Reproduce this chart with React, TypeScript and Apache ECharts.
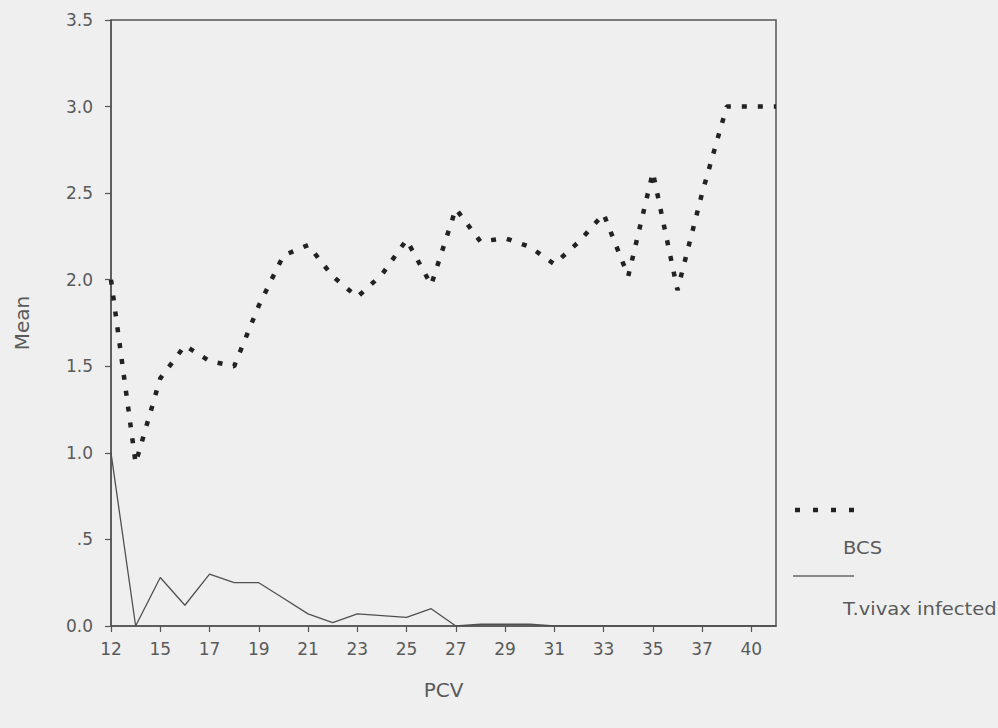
import React, { useEffect, useRef } from "react";
import * as echarts from "echarts";

const categories = ["12", "14", "15", "16", "17", "18", "19", "20", "21", "22", "23", "24", "25", "26", "27", "28", "29", "30", "31", "32", "33", "34", "35", "36", "37", "38", "40", "42"];
const bcsValues = [2.0, 0.94, 1.43, 1.62, 1.53, 1.5, 1.85, 2.14, 2.2, 2.02, 1.9, 2.03, 2.23, 1.97, 2.41, 2.22, 2.24, 2.19, 2.09, 2.22, 2.38, 2.02, 2.62, 1.94, 2.5, 3.0, 3.0, 3.0];
const vivaxValues = [1.0, 0.0, 0.28, 0.12, 0.3, 0.25, 0.25, 0.16, 0.07, 0.02, 0.07, 0.06, 0.05, 0.1, 0.0, 0.01, 0.01, 0.01, 0.0, 0.0, 0.0, 0.0, 0.0, 0.0, 0.0, 0.0, 0.0, 0.0];
const yTicks = [0, 0.5, 1, 1.5, 2, 2.5, 3, 3.5];
const seriesNames = ["BCS", "T.vivax infected"];

const FONT = "'DejaVu Sans', Verdana, sans-serif";
const TEXT = "#5a5a5a";
const AXIS = "#555";

export default function App() {
  const ref = useRef<HTMLDivElement>(null);
  useEffect(() => {
    if (!ref.current) return;
    const chart = echarts.init(ref.current, undefined, { renderer: "svg" });
    chart.setOption({
      animation: false,
      backgroundColor: "#efefef",
      textStyle: { fontFamily: FONT },
      grid: {
        left: 111,
        top: 20,
        right: 222,
        bottom: 102,
        show: true,
        borderColor: AXIS,
        borderWidth: 1.5,
        backgroundColor: "transparent",
      },
      xAxis: {
        type: "category",
        data: categories,
        boundaryGap: false,
        name: "PCV",
        nameLocation: "middle",
        nameGap: 54,
        nameTextStyle: { fontSize: 20, color: TEXT, fontFamily: FONT },
        axisLine: { lineStyle: { color: AXIS, width: 1.5 } },
        axisTick: { show: true, length: 6, interval: (i: number) => i % 2 === 0, lineStyle: { color: AXIS, width: 1.2 } },
        axisLabel: { interval: (i: number) => i % 2 === 0, color: TEXT, fontSize: 17, margin: 14, fontFamily: FONT },
        splitLine: { show: false },
      },
      yAxis: {
        type: "value",
        min: yTicks[0],
        max: yTicks[yTicks.length - 1],
        interval: 0.5,
        name: "Mean",
        nameLocation: "middle",
        nameGap: 79,
        nameTextStyle: { fontSize: 20, color: TEXT, fontFamily: FONT },
        axisLine: { show: true, lineStyle: { color: AXIS, width: 1.5 } },
        axisTick: { show: true, length: 6, lineStyle: { color: AXIS, width: 1.2 } },
        axisLabel: {
          color: TEXT,
          fontSize: 17,
          margin: 18,
          fontFamily: FONT,
          formatter: (v: number) => (v === 0.5 ? ".5" : v.toFixed(1)),
        },
        splitLine: { show: false },
      },
      series: [
        {
          name: seriesNames[0],
          type: "line",
          data: bcsValues,
          symbol: "none",
          lineStyle: { color: "#222", width: 4.5, type: [5, 11], cap: "butt" },
        },
        {
          name: seriesNames[1],
          type: "line",
          data: vivaxValues,
          symbol: "none",
          lineStyle: { color: "#505050", width: 1.3 },
        },
      ],
      graphic: [
        {
          type: "line",
          shape: { x1: 795, y1: 510, x2: 858, y2: 510 },
          style: { stroke: "#222", lineWidth: 4.5, lineDash: [5, 13] },
        },
        {
          type: "text",
          x: 843,
          y: 548,
          scaleX: 1.15,
          style: { text: seriesNames[0], fill: TEXT, font: `17px ${FONT}`, verticalAlign: "middle" },
        },
        {
          type: "line",
          shape: { x1: 793, y1: 576, x2: 854, y2: 576 },
          style: { stroke: "#666", lineWidth: 1.3 },
        },
        {
          type: "text",
          x: 843,
          y: 609,
          scaleX: 1.15,
          style: { text: seriesNames[1], fill: TEXT, font: `17px ${FONT}`, verticalAlign: "middle" },
        },
      ],
    });
    return () => chart.dispose();
  }, []);
  return <div ref={ref} style={{ position: "fixed", left: 0, top: 0, width: 998, height: 728 }} />;
}
